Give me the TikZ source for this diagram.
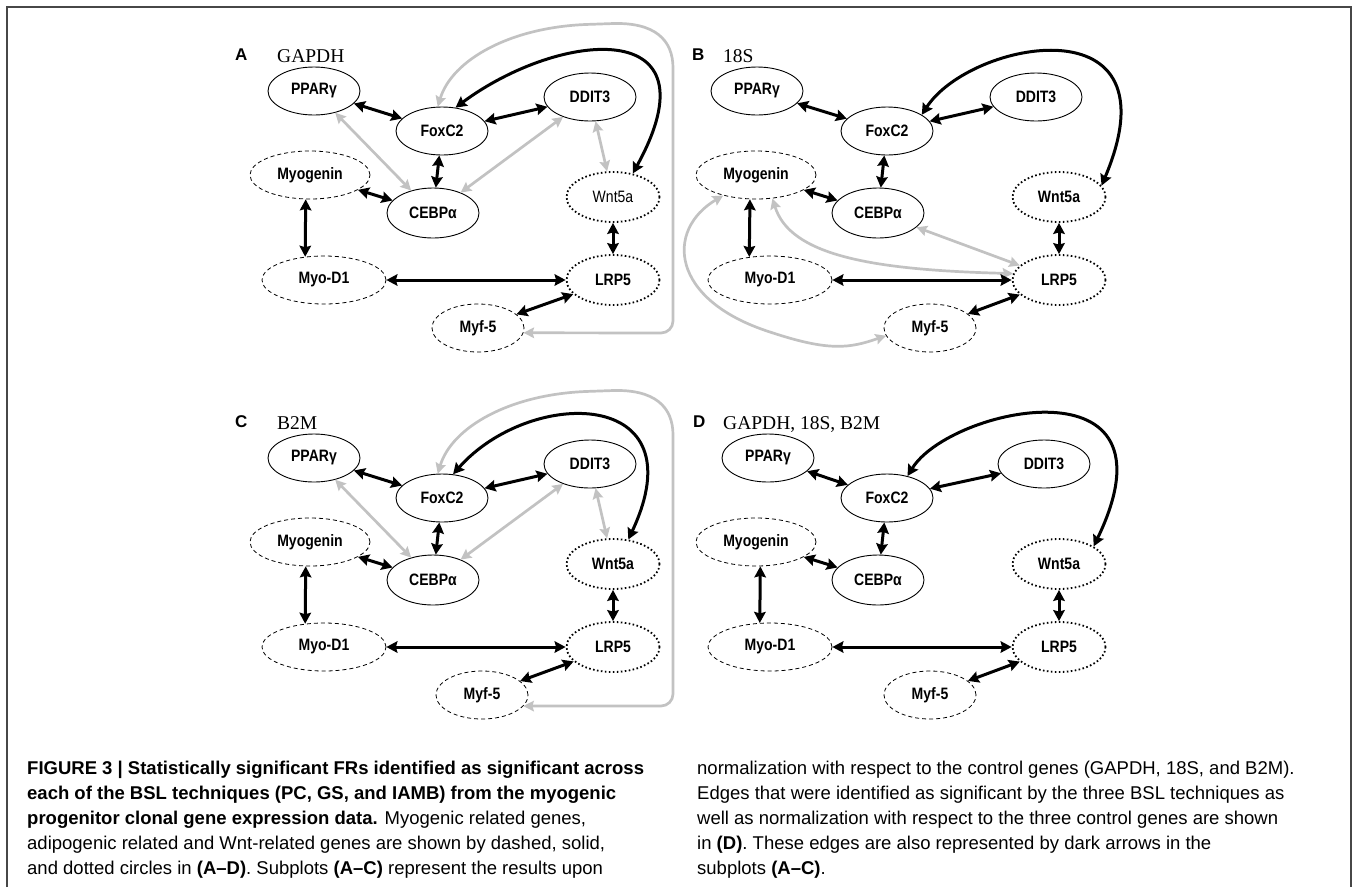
\documentclass[tikz,border=0pt]{standalone}
\usepackage{fontspec}
\setmainfont{Liberation Sans}
\newfontfamily\nodefnt[FakeStretch=0.85]{Liberation Sans}
\newfontfamily\serfnt{Liberation Serif}
\usetikzlibrary{shapes.geometric,arrows.meta}
\definecolor{edgegray}{HTML}{C2C2C2}
\definecolor{framecol}{HTML}{474747}
\begin{document}
\begin{tikzpicture}[x=1pt,y=-1pt,
  gene/.style={ellipse, draw, line width=0.9pt, minimum width=92pt, minimum height=48pt, inner sep=0pt,
    font=\nodefnt\bfseries\fontsize{16.5}{17}\selectfont},
  myo/.style={gene, dash pattern=on 4pt off 3pt, line width=0.8pt},
  wntg/.style={gene, dash pattern=on 1.6pt off 2.4pt, line width=1.8pt},
  blk/.style={line width=3pt, {Stealth[length=11pt,width=11.5pt,inset=1.5pt]}-{Stealth[length=11pt,width=11.5pt,inset=1.5pt]}},
  gry/.style={line width=2.7pt, draw=edgegray, {Stealth[length=10.5pt,width=10.5pt,inset=1.5pt]}-{Stealth[length=10.5pt,width=10.5pt,inset=1.5pt]}},
  lab/.style={font=\bfseries\fontsize{17}{18}\selectfont, inner sep=0pt, anchor=base west},
  ser/.style={font=\serfnt\fontsize{19.5}{22}\selectfont, inner sep=0pt, anchor=base west},
  captxt/.style={font=\fontsize{18.5}{22}\selectfont, inner sep=0pt, anchor=base west},
  framel/.style={draw=framecol, line width=1.8pt}
]
\useasboundingbox (0,0) rectangle (1354,887);
\draw[framel] (7,887) -- (7,7) -- (1351,7) -- (1351,887);

% ================= Panel A =================
\node[lab] (la) at (235,60) {A};
\node[ser] (ta) at (277,62) {GAPDH};
\node[gene] (a-pp) at (314,91) {PPARγ};
\node[gene] (a-fox) at (442,131) {FoxC2};
\node[gene] (a-dd) at (590,97) {DDIT3};
\node[myo, minimum width=120pt] (a-myog) at (310,175) {Myogenin};
\node[gene, minimum height=50pt] (a-ceb) at (433,213) {CEBPα};
\node[wntg, minimum width=93pt, minimum height=50pt, font=\nodefnt\fontsize{16.5}{17}\selectfont] (a-wnt) at (613,197) {Wnt5a};
\node[myo, minimum width=124pt] (a-myod) at (324,280) {Myo-D1};
\node[wntg, minimum width=93pt, minimum height=50pt] (a-lrp) at (613,280) {LRP5};
\node[myo] (a-myf) at (478,328) {Myf-5};

\draw[gry] (a-pp) -- (a-ceb);
\draw[gry] (a-dd) -- (a-ceb);
\draw[gry] (a-dd) -- (a-wnt);
\draw[gry, rounded corners=12pt] (a-fox.100) .. controls (452,60) and (510,27) .. (600,24)
   .. controls (655,22) and (673,40) .. (673,80) -- (673,333) -- (a-myf.-6);

\draw[blk] (a-pp) -- (a-fox);
\draw[blk] (a-fox) -- (a-dd);
\draw[blk] (a-fox) -- (a-ceb);
\draw[blk] (a-myog) -- (a-ceb);
\draw[blk] (a-myog.-100) -- (a-myod.129);
\draw[blk] (a-myod) -- (a-lrp);
\draw[blk] (a-lrp) -- (a-myf);
\draw[blk] (a-wnt) -- (a-lrp);
\draw[blk] (a-fox.60) .. controls (560,30) and (720,15) .. (a-wnt.50);

% ================= Panel B =================
\node[lab] (lb) at (692,60) {B};
\node[ser] (tb) at (723,62) {18S};
\node[gene] (b-pp) at (757,91) {PPARγ};
\node[gene] (b-fox) at (887,131) {FoxC2};
\node[gene] (b-dd) at (1036,97) {DDIT3};
\node[myo, minimum width=120pt] (b-myog) at (756,175) {Myogenin};
\node[gene, minimum height=50pt] (b-ceb) at (878,213) {CEBPα};
\node[wntg, minimum width=93pt, minimum height=50pt] (b-wnt) at (1059,197) {Wnt5a};
\node[myo, minimum width=124pt] (b-myod) at (770,280) {Myo-D1};
\node[wntg, minimum width=93pt, minimum height=50pt] (b-lrp) at (1059,280) {LRP5};
\node[myo] (b-myf) at (930,328) {Myf-5};

\draw[gry] (b-ceb) -- (b-lrp);
\draw[gry] (b-myog.-55) .. controls (790,255) and (870,270) .. (b-lrp.172);
\draw[gry] (b-myog.-148) .. controls (665,230) and (670,300) .. (770,332)
   .. controls (830,352) and (850,348) .. (b-myf.190);

\draw[blk] (b-pp) -- (b-fox);
\draw[blk] (b-fox) -- (b-dd);
\draw[blk] (b-fox) -- (b-ceb);
\draw[blk] (b-myog) -- (b-ceb);
\draw[blk] (b-myog.-104) -- (b-myod.132);
\draw[blk] (b-myod) -- (b-lrp);
\draw[blk] (b-lrp) -- (b-myf);
\draw[blk] (b-wnt) -- (b-lrp);
\draw[blk] (b-fox.25) .. controls (970,40) and (1180,0) .. (b-wnt.15);

% ================= Panel C =================
\begin{scope}[shift={(0,367)}]
\node[lab] (lc) at (235,60) {C};
\node[ser] (tc) at (277,62) {B2M};
\node[gene] (c-pp) at (314,91) {PPARγ};
\node[gene] (c-fox) at (442,131) {FoxC2};
\node[gene] (c-dd) at (590,97) {DDIT3};
\node[myo, minimum width=120pt] (c-myog) at (310,175) {Myogenin};
\node[gene, minimum height=50pt] (c-ceb) at (433,213) {CEBPα};
\node[wntg, minimum width=93pt, minimum height=50pt] (c-wnt) at (613,197) {Wnt5a};
\node[myo, minimum width=124pt] (c-myod) at (324,280) {Myo-D1};
\node[wntg, minimum width=93pt, minimum height=50pt] (c-lrp) at (613,280) {LRP5};
\node[myo] (c-myf) at (482,328) {Myf-5};

\draw[gry] (c-pp) -- (c-ceb);
\draw[gry] (c-dd) -- (c-ceb);
\draw[gry] (c-dd) -- (c-wnt);
\draw[gry, rounded corners=12pt] (c-fox.100) .. controls (452,60) and (510,27) .. (600,24)
   .. controls (655,22) and (673,40) .. (673,80) -- (673,339) -- (c-myf.-15);

\draw[blk] (c-pp) -- (c-fox);
\draw[blk] (c-fox) -- (c-dd);
\draw[blk] (c-fox) -- (c-ceb);
\draw[blk] (c-myog) -- (c-ceb);
\draw[blk] (c-myog.-100) -- (c-myod.129);
\draw[blk] (c-myod) -- (c-lrp);
\draw[blk] (c-lrp) -- (c-myf);
\draw[blk] (c-wnt) -- (c-lrp);
\draw[blk] (c-fox.65) .. controls (530,20) and (700,20) .. (c-wnt.58);
\end{scope}

% ================= Panel D =================
\begin{scope}[shift={(0,367)}]
\node[lab] (ld) at (693,60) {D};
\node[ser] (td) at (723,62) {GAPDH, 18S, B2M};
\node[gene] (d-pp) at (768,91) {PPARγ};
\node[gene] (d-fox) at (887,131) {FoxC2};
\node[gene] (d-dd) at (1044,97) {DDIT3};
\node[myo, minimum width=120pt] (d-myog) at (756,175) {Myogenin};
\node[gene, minimum height=50pt] (d-ceb) at (878,213) {CEBPα};
\node[wntg, minimum width=93pt, minimum height=50pt] (d-wnt) at (1059,197) {Wnt5a};
\node[myo, minimum width=124pt] (d-myod) at (770,280) {Myo-D1};
\node[wntg, minimum width=93pt, minimum height=50pt] (d-lrp) at (1059,280) {LRP5};
\node[myo] (d-myf) at (930,328) {Myf-5};

\draw[blk] (d-pp) -- (d-fox);
\draw[blk] (d-fox) -- (d-dd);
\draw[blk] (d-fox) -- (d-ceb);
\draw[blk] (d-myog) -- (d-ceb);
\draw[blk] (d-myog.-80) -- (d-myod.113);
\draw[blk] (d-myod) -- (d-lrp);
\draw[blk] (d-lrp) -- (d-myf);
\draw[blk] (d-wnt) -- (d-lrp);
\draw[blk] (d-fox.47) .. controls (950,40) and (1185,-10) .. (d-wnt.27);
\end{scope}

% ================= Caption =================
\node[captxt] (cl1) at (27,774) {\textbf{FIGURE 3 | Statistically significant FRs identified as significant across}};
\node[captxt] (cl2) at (27,799) {\textbf{each of the BSL techniques (PC, GS, and IAMB) from the myogenic}};
\node[captxt] (cl3) at (27,824) {\textbf{progenitor clonal gene expression data.} Myogenic related genes,};
\node[captxt] (cl4) at (27,849) {adipogenic related and Wnt-related genes are shown by dashed, solid,};
\node[captxt] (cl5) at (27,874) {and dotted circles in \textbf{(A–D)}. Subplots \textbf{(A–C)} represent the results upon};
\node[captxt] (cr1) at (697,774) {normalization with respect to the control genes (GAPDH, 18S, and B2M).};
\node[captxt] (cr2) at (697,799) {Edges that were identified as significant by the three BSL techniques as};
\node[captxt] (cr3) at (697,824) {well as normalization with respect to the three control genes are shown};
\node[captxt] (cr4) at (697,849) {in \textbf{(D)}. These edges are also represented by dark arrows in the};
\node[captxt] (cr5) at (697,874) {subplots \textbf{(A–C)}.};
\end{tikzpicture}
\end{document}
